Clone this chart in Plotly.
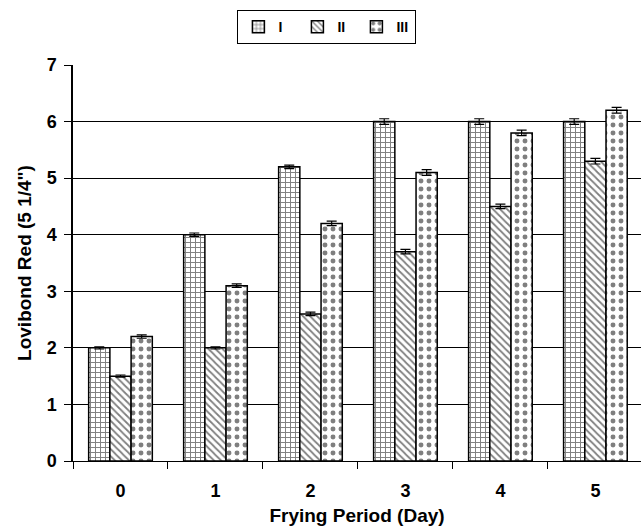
import plotly.graph_objects as go

days = ["0", "1", "2", "3", "4", "5"]
series_names = ["I", "II", "III"]
vals_I = [2.0, 4.0, 5.2, 6.0, 6.0, 6.0]
vals_II = [1.5, 2.0, 2.6, 3.7, 4.5, 5.3]
vals_III = [2.2, 3.1, 4.2, 5.1, 5.8, 6.2]
err_I = [0.02, 0.03, 0.03, 0.05, 0.05, 0.05]
err_II = [0.02, 0.02, 0.03, 0.04, 0.04, 0.05]
err_III = [0.03, 0.03, 0.04, 0.05, 0.05, 0.05]
patterns = ["+", "\\", "."]

fig = go.Figure()
for name, v, e, p in zip(series_names, [vals_I, vals_II, vals_III], [err_I, err_II, err_III], patterns):
    fig.add_trace(go.Bar(
        x=days, y=v, name=name,
        marker=dict(color="white", line=dict(color="black", width=1.5),
                    pattern=dict(shape=p, fgcolor="black", bgcolor="white",
                                 size=5 if p != "." else 8, solidity=0.35 if p != "." else 0.3)),
        error_y=dict(type="data", array=e, color="black", thickness=1.2, width=5),
    ))

fig.update_layout(
    width=641, height=528,
    margin=dict(l=73, r=0, t=65, b=67),
    plot_bgcolor="white", paper_bgcolor="white",
    barmode="group", bargap=0.33, bargroupgap=0,
    font=dict(family="Liberation Sans, Arial", color="black"),
    legend=dict(orientation="h", xref="container", yref="container",
                x=0.51, y=0.981, xanchor="center", yanchor="top",
                bordercolor="black", borderwidth=1,
                font=dict(size=14, color="black", weight="bold"), entrywidth=14, itemwidth=30,
                tracegroupgap=0, traceorder="normal"),
    showlegend=True,
)
fig.update_xaxes(
    range=[-0.5, 5.48], showline=True, linecolor="black", linewidth=1,
    ticks="outside", tickson="boundaries", ticklen=7, tickcolor="black",
    tickfont=dict(size=18, weight="bold"), ticklabelstandoff=13,
    title=dict(text="<b>Frying Period (Day)</b>", font=dict(size=19), standoff=9),
    showgrid=False, automargin=False,
)
fig.update_yaxes(
    range=[0, 7], dtick=1, showline=True, linecolor="black", linewidth=1.5,
    ticks="outside", ticklen=7, tickcolor="black",
    tickfont=dict(size=18, weight="bold"), ticklabelstandoff=4,
    showgrid=True, gridcolor="black", gridwidth=1,
    title=dict(text="<b>Lovibond Red (5 1/4\")</b>", font=dict(size=19), standoff=10),
    zeroline=False, automargin=False,
)
fig.write_html("out.html")
